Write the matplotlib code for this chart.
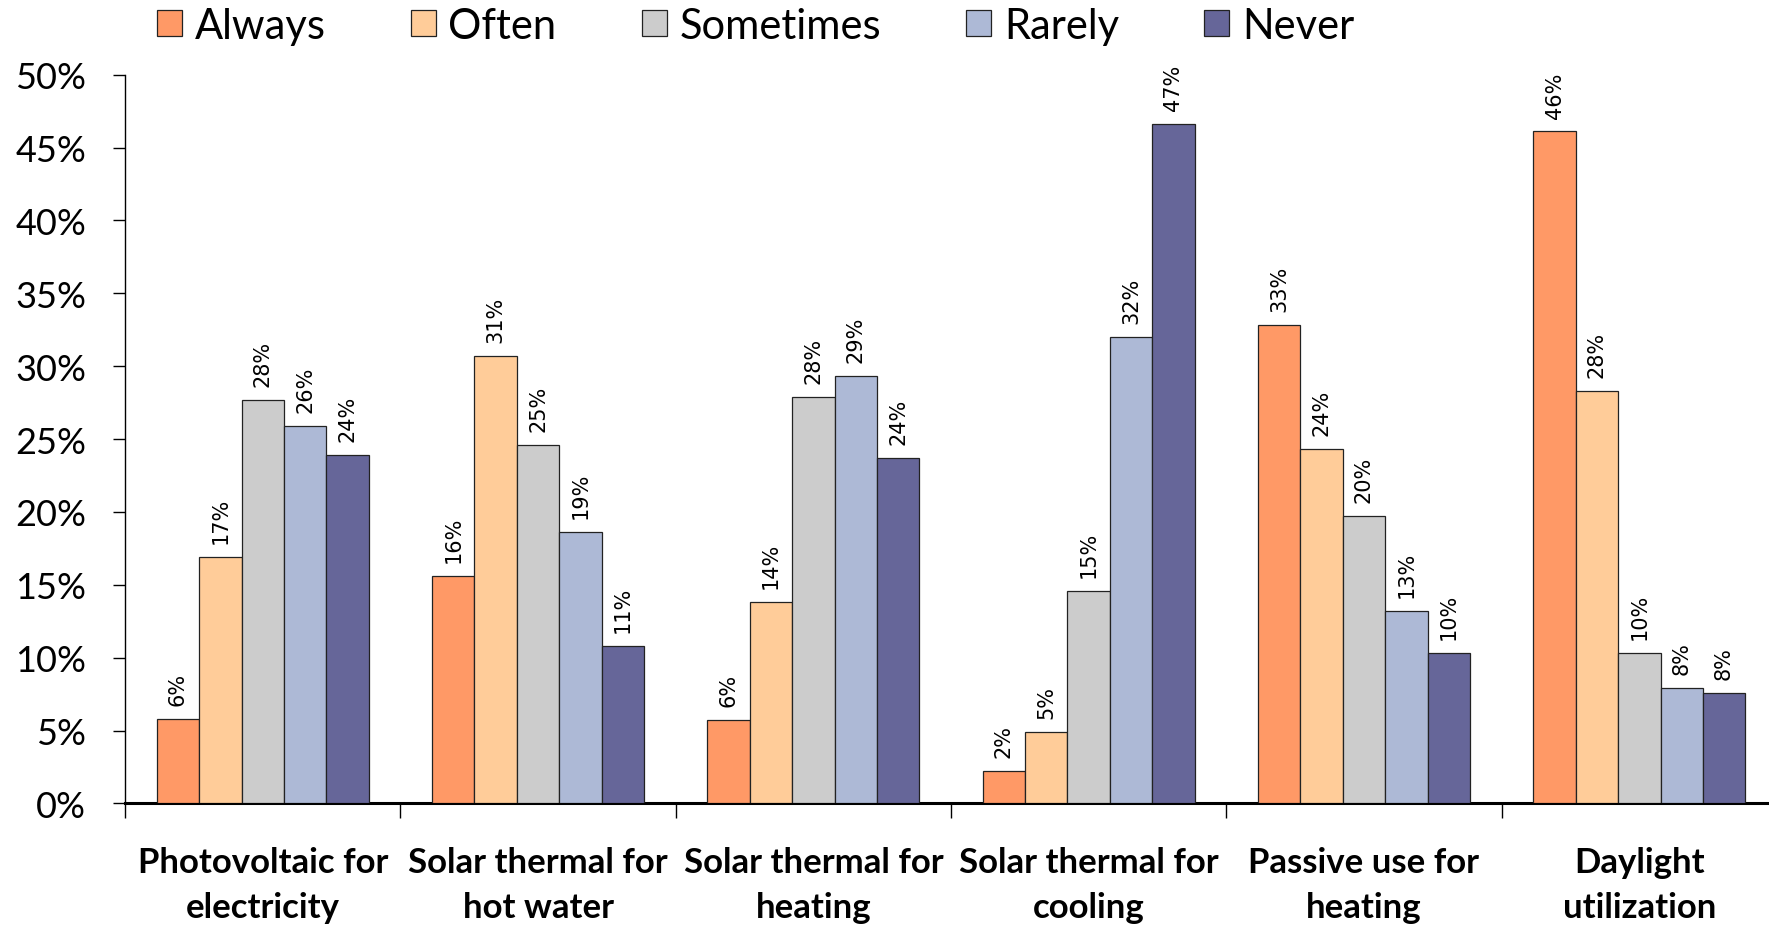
import matplotlib.pyplot as plt
import numpy as np

# data (percent)
categories = ['Photovoltaic for\nelectricity', 'Solar thermal for\nhot water',
              'Solar thermal for\nheating', 'Solar thermal for\ncooling',
              'Passive use for\nheating', 'Daylight\nutilization']
series = ['Always', 'Often', 'Sometimes', 'Rarely', 'Never']
always = [5.8, 15.6, 5.7, 2.2, 32.8, 46.1]
often = [16.9, 30.7, 13.8, 4.9, 24.3, 28.3]
sometimes = [27.7, 24.6, 27.9, 14.6, 19.7, 10.3]
rarely = [25.9, 18.6, 29.3, 32.0, 13.2, 7.9]
never = [23.9, 10.8, 23.7, 46.6, 10.3, 7.6]
yticks = [0, 5, 10, 15, 20, 25, 30, 35, 40, 45, 50]

colors = ['#FF9966', '#FFCC99', '#CCCCCC', '#ADB9D6', '#666699']
narrow = ['Lato', 'DejaVu Sans']

fig = plt.figure(figsize=(17.69, 9.28), dpi=100)
ax = fig.add_axes([0.0707, 0.1332, 0.9338, 0.7853])

x = np.arange(len(categories))
w = 0.154
handles = []
for i, (vals, name) in enumerate(zip([always, often, sometimes, rarely, never], series)):
    bars = ax.bar(x + (i - 2) * w, vals, w, color=colors[i], edgecolor='#222222',
                  linewidth=0.9, label=name, zorder=3)
    handles.append(bars)
    for b, v in zip(bars, vals):
        ax.annotate(f'{round(v):d}%', (b.get_x() + b.get_width() / 2, v),
                    xytext=(0, 10), textcoords='offset points', rotation=90,
                    ha='center', va='bottom', fontsize=15, family='DejaVu Sans')

ax.set_xlim(-0.5, len(categories) - 0.5)
ax.set_ylim(0, 50)
ax.set_yticks(yticks)
ax.set_yticklabels([f'{t}%' for t in yticks], family=narrow, fontsize=26)
ax.tick_params(axis='y', length=9, width=1, pad=19, direction='out')

ax.set_xticks(x)
ax.set_xticklabels(categories, family=narrow, fontsize=25, fontweight='bold',
                   linespacing=1.48)
ax.tick_params(axis='x', which='major', length=0, pad=31)
ax.set_xticks(np.arange(-0.5, len(categories)), minor=True)
ax.tick_params(axis='x', which='minor', length=11, width=1, direction='out')

ax.spines['top'].set_visible(False)
ax.spines['right'].set_visible(False)
ax.spines['bottom'].set_linewidth(2.2)
ax.spines['left'].set_linewidth(1)

fig.legend(handles=handles, labels=series, loc='center left',
           bbox_to_anchor=(0.0887, 0.971), ncol=5, frameon=False,
           prop={'family': narrow, 'size': 30}, borderpad=0, borderaxespad=0,
           handlelength=0.6, handleheight=0.6, handletextpad=0.3,
           columnspacing=2.05)

fig.savefig('out.png', dpi=100)
